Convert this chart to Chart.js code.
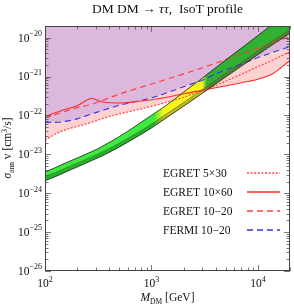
<!DOCTYPE html>
<html lang="en">
<head>
<meta charset="UTF-8">
<title>DM DM → ττ, IsoT profile</title>
<script src="https://cdn.jsdelivr.net/npm/chart.js"></script>
<style>
  html, body { margin: 0; padding: 0; background: #fff; }
  #box { width: 294px; height: 304px; }
</style>
</head>
<body>
<div id="box"><canvas id="myChart" width="294" height="304"></canvas></div>
<script>
// masses in GeV, cross sections in cm^3/s
const masses = [100, 125, 155, 200, 275, 310, 350, 500, 700, 1000, 1400, 2000, 3000, 4500, 7000, 10000, 14000, 20000];
const egret5x30 = [2.27e-23, 3.35e-23, 4.25e-23, 5.23e-23, 6.64e-23, 7.47e-23, 8.41e-23, 1.10e-22, 1.36e-22, 1.72e-22, 2.18e-22, 2.94e-22, 4.32e-22, 6.75e-22, 1.15e-21, 1.80e-21, 2.73e-21, 4.4e-21];
const egret10x60 = [9.5e-23, 1.17e-22, 1.44e-22, 1.77e-22, 2.72e-22, 2.46e-22, 2.22e-22, 2.09e-22, 2.25e-22, 2.53e-22, 2.94e-22, 3.61e-22, 4.45e-22, 5.48e-22, 6.96e-22, 8.57e-22, 1.22e-21, 2.6e-21];
const egret1020 = [8.67e-23, 1.05e-22, 1.28e-22, 1.59e-22, 1.94e-22, 2.18e-22, 2.46e-22, 3.55e-22, 4.75e-22, 6.44e-22, 8.62e-22, 1.17e-21, 1.68e-21, 2.47e-21, 3.79e-21, 5.32e-21, 7.52e-21, 1.08e-20];
const fermi1020 = [6.64e-23, 6.64e-23, 7.05e-23, 8.17e-23, 1.10e-22, 1.22e-22, 1.36e-22, 1.82e-22, 2.25e-22, 2.85e-22, 3.84e-22, 5.48e-22, 8.07e-22, 1.34e-21, 2.09e-21, 3.08e-21, 4.27e-21, 5.9e-21];
// favoured band: upper edge, inner line, lower edge
const bandUpper = [3.49e-24, 4.56e-24, 5.96e-24, 8.02e-24, 1.18e-23, 1.37e-23, 1.64e-23, 2.88e-23, 5.23e-23, 1.01e-22, 1.88e-22, 3.95e-22, 9.10e-22, 2.16e-21, 5.42e-21, 1.14e-20, 2.33e-20, 4.9e-20];
const bandInner = [2.70e-24, 3.42e-24, 4.45e-24, 5.95e-24, 8.70e-24, 1.01e-23, 1.18e-23, 1.95e-23, 3.32e-23, 6.00e-23, 1.12e-22, 2.15e-22, 4.62e-22, 1.00e-21, 2.30e-21, 4.55e-21, 8.5e-21, 1.6e-20];
const bandLower = [2.10e-24, 2.67e-24, 3.49e-24, 4.70e-24, 6.92e-24, 8.02e-24, 9.31e-24, 1.55e-23, 2.64e-23, 4.79e-23, 8.93e-23, 1.72e-22, 3.72e-22, 8.07e-22, 1.86e-21, 3.68e-21, 6.88e-21, 1.3e-20];

const legendLabels = ['EGRET 5×30', 'EGRET 10×60', 'EGRET 10−20', 'FERMI 10−20'];
const xTickExps = [2, 3, 4];
const yTickExps = [-26, -25, -24, -23, -22, -21, -20];

const SERIF = 'Liberation Serif, Times New Roman, serif';
const lineStyles = [
    { color: '#ff4848', dash: [2, 1.6] },
    { color: '#ff2a2a', dash: [] },
    { color: '#ff3c3c', dash: [6, 4] },
    { color: '#3434f4', dash: [6, 4] }
];

const pts = ys => masses.map((m, i) => ({ x: m, y: ys[i] }));
// lower edge of the pink EGRET region
const egretEnvelope = egret5x30.map((v, i) => Math.min(v, egret10x60[i]));

function bandFill(cols) {
    return (ctx) => {
        const chart = ctx.chart;
        const a = chart.chartArea;
        if (!a) return cols[0];
        const xs = chart.scales.x;
        const p = m => Math.min(1, Math.max(0, (xs.getPixelForValue(m) - a.left) / (a.right - a.left)));
        const g = chart.ctx.createLinearGradient(a.left, 0, a.right, 0);
        g.addColorStop(0, cols[0]);
        g.addColorStop(p(1050), cols[0]);
        g.addColorStop(p(1300), cols[1]);
        g.addColorStop(p(3000), cols[1]);
        g.addColorStop(p(3300), cols[2]);
        g.addColorStop(1, cols[2]);
        return g;
    };
}

function drawRuns(c, runs, x, y) {
    let cx = x;
    runs.forEach(r => {
        c.font = r.f;
        c.fillText(r.t, cx, y + (r.dy || 0));
        cx += c.measureText(r.t).width;
    });
}
function runsWidth(c, runs) {
    let w = 0;
    runs.forEach(r => { c.font = r.f; w += c.measureText(r.t).width; });
    return w;
}

const decor = {
    id: 'decor',
    afterDraw(chart) {
        const c = chart.ctx, a = chart.chartArea;
        const xs = chart.scales.x, ys = chart.scales.y;
        c.save();
        c.strokeStyle = '#555';
        c.lineWidth = 0.8;
        c.beginPath();
        // x ticks (bottom and top, inward)
        for (let e = 2; e <= 4; e++) {
            for (let k = 1; k <= 9; k++) {
                const v = k * Math.pow(10, e);
                if (v > 20000) continue;
                const px = Math.round(xs.getPixelForValue(v)) + 0.5;
                const len = k === 1 ? 6 : 3.5;
                c.moveTo(px, a.bottom); c.lineTo(px, a.bottom - len);
                c.moveTo(px, a.top); c.lineTo(px, a.top + len);
            }
        }
        // y ticks (left and right, inward)
        for (let e = -26; e <= -20; e++) {
            for (let k = 1; k <= 9; k++) {
                const v = k * Math.pow(10, e);
                if (v > 2e-20) continue;
                const py = Math.round(ys.getPixelForValue(v)) + 0.5;
                const len = k === 1 ? 6 : 3.5;
                c.moveTo(a.left, py); c.lineTo(a.left + len, py);
                c.moveTo(a.right, py); c.lineTo(a.right - len, py);
            }
        }
        c.stroke();
        c.strokeStyle = '#444';
        c.lineWidth = 1;
        c.strokeRect(Math.round(a.left) + 0.5, Math.round(a.top) + 0.5, Math.round(a.right - a.left) - 1, Math.round(a.bottom - a.top) - 1);

        c.fillStyle = '#111';
        c.textBaseline = 'alphabetic';
        c.textAlign = 'left';
        // x tick labels
        xTickExps.forEach(e => {
            const px = xs.getPixelForValue(Math.pow(10, e));
            const runs = [{ t: '10', f: '11.5px ' + SERIF }, { t: String(e), f: '8px ' + SERIF, dy: -5.5 }];
            const w = runsWidth(c, runs);
            drawRuns(c, runs, px - w / 2, 287);
        });
        // y tick labels
        yTickExps.forEach(e => {
            const py = ys.getPixelForValue(Math.pow(10, e));
            const runs = [{ t: '10', f: '11.5px ' + SERIF }, { t: '−' + Math.abs(e), f: '8px ' + SERIF, dy: -5.5 }];
            const w = runsWidth(c, runs);
            drawRuns(c, runs, 42 - w, py + 3.8);
        });
        // x axis title
        const xt = [
            { t: 'M', f: 'italic 11.5px ' + SERIF },
            { t: 'DM', f: '7.5px ' + SERIF, dy: 2.5 },
            { t: ' [GeV]', f: '11.5px ' + SERIF }
        ];
        drawRuns(c, xt, (a.left + a.right) / 2 - runsWidth(c, xt) / 2, 301);
        // y axis title
        const yt = [
            { t: 'σ', f: 'italic 11.5px ' + SERIF },
            { t: 'ann', f: '7.5px ' + SERIF, dy: 2.5 },
            { t: ' v [cm', f: '11.5px ' + SERIF },
            { t: '3', f: '7.5px ' + SERIF, dy: -4.5 },
            { t: '/s]', f: '11.5px ' + SERIF }
        ];
        c.save();
        c.translate(11, 148);
        c.rotate(-Math.PI / 2);
        drawRuns(c, yt, -runsWidth(c, yt) / 2, 0);
        c.restore();
        // title
        const tt = [
            { t: 'DM DM → ', f: '13.5px ' + SERIF },
            { t: 'ττ', f: 'italic 13.5px ' + SERIF },
            { t: ',  IsoT profile', f: '13.5px ' + SERIF }
        ];
        drawRuns(c, tt, (a.left + a.right) / 2 - runsWidth(c, tt) / 2, 13);
        // legend
        const rowY = [173, 192, 211, 230];
        legendLabels.forEach((lab, i) => {
            const st = lineStyles[i];
            c.font = '11.5px ' + SERIF;
            c.fillStyle = '#111';
            c.textBaseline = 'middle';
            c.fillText(lab, 163, rowY[i] + 0.5);
            c.beginPath();
            c.strokeStyle = st.color;
            c.lineWidth = 1.4;
            c.setLineDash(st.dash);
            c.moveTo(247, rowY[i]);
            c.lineTo(280, rowY[i]);
            c.stroke();
            c.setLineDash([]);
        });
        c.restore();
    }
};

new Chart(document.getElementById('myChart'), {
    type: 'line',
    data: {
        datasets: [
            { label: 'bandUpper', data: pts(bandUpper), borderColor: '#1a1a1a', borderWidth: 0.8, fill: '+1',
              backgroundColor: bandFill(['#3cee3c', '#f6f61a', '#31b031']), order: 1 },
            { label: 'bandInner', data: pts(bandInner), borderColor: '#333', borderWidth: 0.5, fill: '+1',
              backgroundColor: bandFill(['#22b422', '#bcbc12', '#4a8a22']), order: 2 },
            { label: 'bandLower', data: pts(bandLower), borderColor: '#1a1a1a', borderWidth: 0.8, fill: false, order: 3 },
            { label: legendLabels[0], data: pts(egret5x30), borderColor: lineStyles[0].color, borderDash: lineStyles[0].dash, borderWidth: 1.2, fill: false, order: 4 },
            { label: legendLabels[1], data: pts(egret10x60), borderColor: lineStyles[1].color, borderWidth: 1.1, fill: false, order: 5 },
            { label: legendLabels[2], data: pts(egret1020), borderColor: lineStyles[2].color, borderDash: lineStyles[2].dash, borderWidth: 1.2, fill: false, order: 6 },
            { label: legendLabels[3], data: pts(fermi1020), borderColor: lineStyles[3].color, borderDash: lineStyles[3].dash, borderWidth: 1.1, fill: 'end',
              backgroundColor: '#dcb9dc', order: 7 },
            { label: 'envelope', data: pts(egretEnvelope), borderColor: 'rgba(0,0,0,0)', borderWidth: 0, fill: 'end',
              backgroundColor: '#ffd2d2', order: 8 }
        ]
    },
    options: {
        responsive: false,
        animation: false,
        devicePixelRatio: 1,
        layout: { padding: { left: 45, right: 4, top: 26, bottom: 33 } },
        scales: {
            x: { type: 'logarithmic', min: 100, max: 20000, display: false },
            y: { type: 'logarithmic', min: 1e-26, max: 2e-20, display: false }
        },
        elements: {
            point: { radius: 0 },
            line: { borderWidth: 1, cubicInterpolationMode: 'monotone' }
        },
        plugins: {
            legend: { display: false },
            tooltip: { enabled: false },
            filler: { drawTime: 'beforeDatasetsDraw' }
        }
    },
    plugins: [decor]
});
</script>
</body>
</html>
